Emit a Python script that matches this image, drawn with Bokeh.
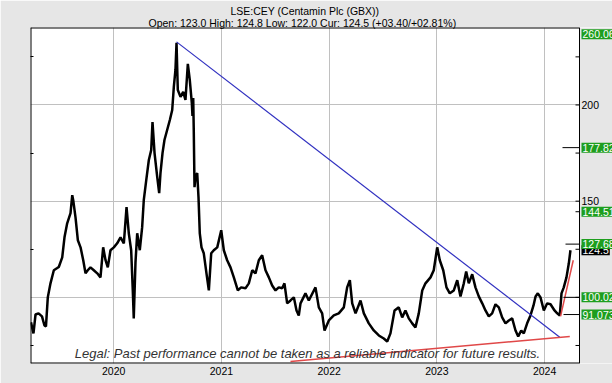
from bokeh.plotting import figure
from bokeh.models import LinearAxis, FixedTicker, Range1d, Label, Grid, Title
from bokeh.core.properties import value
from bokeh.embed import file_html
from bokeh.resources import INLINE

# ---------------- data ----------------
years = [2019.232, 2019.255, 2019.274, 2019.302, 2019.334, 2019.357, 2019.371, 2019.388, 2019.413, 2019.444,
         2019.472, 2019.490, 2019.522, 2019.543, 2019.568, 2019.599, 2019.615, 2019.624, 2019.645, 2019.667,
         2019.692, 2019.717, 2019.738, 2019.759, 2019.784, 2019.815, 2019.847, 2019.877, 2019.902, 2019.924,
         2019.945, 2019.970, 2020.001, 2020.032, 2020.063, 2020.094, 2020.119, 2020.140, 2020.162, 2020.177,
         2020.186, 2020.202, 2020.218, 2020.242, 2020.264, 2020.279, 2020.302, 2020.326, 2020.348, 2020.360,
         2020.379, 2020.404, 2020.422, 2020.434, 2020.453, 2020.471, 2020.496, 2020.521, 2020.543, 2020.558,
         2020.573, 2020.583, 2020.595, 2020.620, 2020.645, 2020.666, 2020.688, 2020.706, 2020.725, 2020.731,
         2020.738, 2020.743, 2020.750, 2020.759, 2020.775, 2020.787, 2020.799, 2020.815, 2020.836, 2020.861,
         2020.883, 2020.905, 2020.929, 2020.961, 2020.998, 2021.022, 2021.053, 2021.084, 2021.115, 2021.152,
         2021.183, 2021.223, 2021.254, 2021.286, 2021.316, 2021.347, 2021.378, 2021.409, 2021.440, 2021.471,
         2021.502, 2021.532, 2021.564, 2021.585, 2021.610, 2021.641, 2021.672, 2021.697, 2021.718, 2021.734,
         2021.780, 2021.811, 2021.873, 2021.904, 2021.935, 2021.957, 2021.997, 2022.043, 2022.089, 2022.136,
         2022.167, 2022.192, 2022.214, 2022.245, 2022.291, 2022.322, 2022.368, 2022.414, 2022.461, 2022.507,
         2022.539, 2022.569, 2022.607, 2022.646, 2022.678, 2022.708, 2022.739, 2022.771, 2022.801, 2022.832,
         2022.864, 2022.894, 2022.941, 2022.971, 2023.003, 2023.027, 2023.059, 2023.089, 2023.120, 2023.157,
         2023.189, 2023.219, 2023.250, 2023.272, 2023.296, 2023.328, 2023.358, 2023.389, 2023.421, 2023.451,
         2023.482, 2023.513, 2023.544, 2023.575, 2023.606, 2023.637, 2023.668, 2023.699, 2023.730, 2023.755,
         2023.783, 2023.807, 2023.838, 2023.869, 2023.897, 2023.916, 2023.937, 2023.962, 2023.993, 2024.024,
         2024.055, 2024.092, 2024.117, 2024.141, 2024.157, 2024.178, 2024.203, 2024.225, 2024.240]
prices = [87.0, 81.3, 91.1, 91.7, 90.1, 85.4, 84.9, 100.0, 107.3, 114.1,
          115.1, 115.8, 120.8, 131.2, 138.5, 143.8, 153.1, 150.5, 141.7, 129.7,
          126.0, 119.3, 112.5, 114.1, 115.6, 114.1, 112.5, 110.4, 126.0, 119.3,
          115.6, 124.5, 126.0, 128.1, 131.2, 128.1, 146.9, 133.3, 124.5, 103.6,
          89.1, 118.2, 133.3, 124.5, 136.5, 150.5, 160.9, 171.4, 176.6, 191.1,
          175.0, 162.5, 154.2, 164.6, 175.0, 181.8, 187.0, 192.2, 197.4, 209.4,
          218.2, 232.3, 207.8, 204.2, 206.8, 202.6, 221.4, 213.0, 201.0, 194.3,
          203.6, 187.0, 157.3, 162.5, 164.6, 152.1, 133.3, 126.0, 122.9, 112.5,
          103.6, 122.9, 124.5, 126.0, 134.9, 124.5, 119.3, 115.6, 110.4, 103.6,
          105.2, 104.7, 107.3, 114.1, 112.5, 119.3, 121.9, 114.1, 110.4, 106.2,
          103.6, 105.2, 104.7, 107.3, 96.9, 98.4, 100.0, 93.2, 90.6, 96.9,
          102.1, 98.4, 105.2, 94.8, 91.7, 82.8, 88.0, 90.6, 91.7, 94.8,
          105.2, 108.9, 96.9, 91.7, 98.4, 91.7, 86.5, 82.8, 80.2, 78.6,
          77.1, 81.3, 93.2, 94.8, 89.6, 93.2, 89.1, 86.5, 84.4, 91.7,
          103.6, 107.3, 110.4, 114.1, 126.0, 119.3, 114.1, 105.2, 102.1, 103.6,
          108.9, 100.5, 107.3, 113.5, 107.3, 112.0, 105.2, 100.5, 96.9, 93.2,
          90.1, 91.7, 96.4, 94.8, 89.6, 86.5, 88.0, 89.1, 82.8, 79.7,
          82.8, 81.3, 86.5, 90.6, 95.8, 100.5, 102.1, 100.0, 93.2, 96.9,
          96.4, 93.2, 91.7, 90.6, 102.1, 105.2, 110.4, 117.7, 124.5]

title_text = "LSE:CEY (Centamin Plc (GBX))"
subtitle_text = "Open: 123.0 High: 124.8 Low: 122.0 Cur: 124.5 (+03.40/+02.81%)"
legal_text = "Legal: Past performance cannot be taken as a reliable indicator for future results."

year_ticks = [2020, 2021, 2022, 2023, 2024]
price_ticks = [100, 150, 200]
price_tick_labels = ["100", "150", "200"]
price_minor = [75, 125, 175, 225]

down_trend_t = [2020.583, 2024.141]
down_trend_v = [232.8, 79.3]
support_t = [2021.641, 2024.234]
support_v = [66.7, 79.7]
up_trend_t = [2024.148, 2024.266]
up_trend_v = [90.1, 119.3]

levels = [260.06, 177.82, 144.51, 127.68, 100.02, 91.073]
level_text = ["260.06", "177.82", "144.51", "127.68", "100.02", "91.073"]
current_price = 124.5
current_text = "124.5"

# ---------------- layout constants ----------------
X0, X1 = 2019.2274, 2024.324          # visible price-area x range
Y0, Y1 = 65.63, 240.26                # visible price-area y range
PLOT_W = 549                          # price area width (px)
SIDE_W = 33                           # value-label strip width (px)
XR = X0 + (X1 - X0) * (PLOT_W + SIDE_W) / PLOT_W
PX_YR = PLOT_W / (X1 - X0)            # px per year
FONT = "Liberation Sans"
GREEN = "#1e9e1e"
BG = "#e6e6e6"

p = figure(width=612, height=383, x_range=Range1d(X0, XR), y_range=Range1d(Y0, Y1),
           x_axis_type=None, y_axis_type=None, output_backend="svg", toolbar_location=None,
           min_border_left=30, min_border_right=0, min_border_top=27, min_border_bottom=20)
p.background_fill_color = "white"
p.border_fill_color = BG
p.outline_line_color = None

# titles (stacked outward from the frame)
p.add_layout(Title(text=subtitle_text, align="left", offset=118, standoff=-2,
                   text_font=FONT, text_font_size="10.5px", text_font_style="normal",
                   text_color="black"), "above")
p.add_layout(Title(text=title_text, align="left", offset=200, standoff=-2,
                   text_font=FONT, text_font_size="10.5px", text_font_style="normal",
                   text_color="black"), "above")

# grids
p.add_layout(Grid(dimension=0, ticker=FixedTicker(ticks=year_ticks), grid_line_color="#c0c0c0"), "center")
p.add_layout(Grid(dimension=1, ticker=FixedTicker(ticks=price_ticks), grid_line_color="#c0c0c0"), "center")

# bottom axis
xaxis = LinearAxis(ticker=FixedTicker(ticks=year_ticks))
xaxis.major_tick_in = 0
xaxis.major_tick_out = 0
xaxis.axis_line_color = None
xaxis.major_label_standoff = 3
xaxis.major_label_text_font = FONT
xaxis.major_label_text_font_size = "10.5px"
xaxis.major_label_text_color = "black"
p.add_layout(xaxis, "below")

# left axis: only small inward minor ticks
laxis = LinearAxis(ticker=FixedTicker(ticks=[], minor_ticks=price_minor))
laxis.minor_tick_in = 3
laxis.minor_tick_out = 0
laxis.axis_line_color = None
p.add_layout(laxis, "left")

# price series
p.line(years, prices, line_color="black", line_width=2.5)

# trend lines
p.line(down_trend_t, down_trend_v, line_color="#3030c0", line_width=1.2)
p.line(support_t, support_v, line_color="#e04848", line_width=1.5)
p.line(up_trend_t, up_trend_v, line_color="#e04848", line_width=1.5)

# grey strip to the right of the price area (value-label column)
p.quad(left=[X1], right=[XR], bottom=[Y0], top=[Y1], fill_color=BG, line_color=None)

# price-area border
p.segment(x0=[X0, X0, X0], y0=[Y0, Y1, Y0], x1=[X1, X1, X0], y1=[Y0, Y1, Y1],
          line_color="black", line_width=2)
p.segment(x0=[X1], y0=[Y0], x1=[X1], y1=[Y1], line_color="black", line_width=1)

# right-axis ticks and labels
tick_len = 4 / PX_YR
all_ticks = price_ticks + price_minor
p.segment(x0=[X1 - tick_len] * len(all_ticks), y0=all_ticks, x1=[X1] * len(all_ticks), y1=all_ticks,
          line_color="black", line_width=1)
p.text(x=[X1] * len(price_ticks), y=price_ticks, text=price_tick_labels, x_offset=2,
       text_align="left", text_baseline="middle", text_font=value(FONT),
       text_font_size="10.5px", text_color="black")

# level marks at right edge of price area
mark_px = [0, 17, 4, 14, 16, 16]
p.segment(x0=[X1 - m / PX_YR for m in mark_px], y0=levels, x1=[X1] * len(levels), y1=levels,
          line_color="black", line_width=1)

# value boxes
p.text(x=[X1], y=[current_price], text=[current_text], x_offset=2,
       text_align="left", text_baseline="middle", text_font=value(FONT),
       text_font_size="10.5px", text_color="white",
       background_fill_color="black", padding=1)
level_pos = [min(lv, Y1 - 3.5) for lv in levels]
p.text(x=[X1] * len(levels), y=level_pos, text=level_text, x_offset=2,
       text_align="left", text_baseline="middle", text_font=value(FONT),
       text_font_size="10.5px", text_color="white",
       background_fill_color=GREEN, padding=1)

# legal text
p.add_layout(Label(x=277, y=10.5, x_units="screen", y_units="screen", text=legal_text,
                   text_align="center", text_baseline="middle", text_font=FONT,
                   text_font_style="italic", text_font_size="13px", text_color="#333333"))

open("out.html", "w").write(file_html(p, INLINE))
